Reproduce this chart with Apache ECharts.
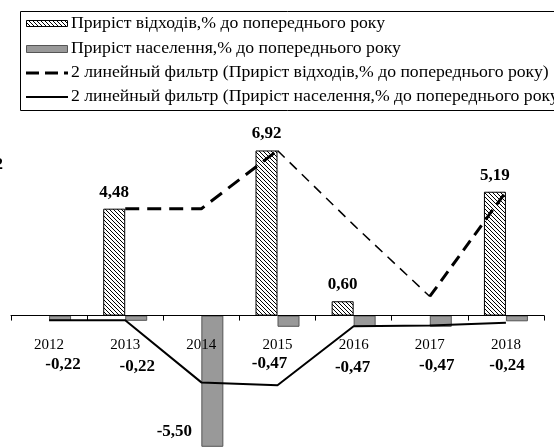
<!DOCTYPE html>
<html>
<head>
<meta charset="utf-8">
<script src="https://cdn.jsdelivr.net/npm/echarts@6/dist/echarts.min.js"></script>
<style>
html,body{margin:0;padding:0;background:#fff;}
#chart{width:554px;height:448px;}
</style>
</head>
<body>
<div id="chart"></div>
<script>
// ---- data ----
const years = ['2012','2013','2014','2015','2016','2017','2018'];
const wasteGrowth = [null, 4.48, null, 6.92, 0.60, null, 5.19];
const popGrowth = [-0.22, -0.22, -5.50, -0.47, -0.47, -0.47, -0.24];
const wasteFilter = [null, 4.48, 4.48, 6.92, 3.8, 0.8, 5.19];
const popFilter = [-0.2, -0.2, -2.8, -2.92, -0.45, -0.42, -0.3];
const names = [
  'Приріст відходів,% до попереднього року',
  'Приріст населення,% до попереднього року',
  '2 линейный фильтр (Приріст відходів,% до попереднього року)',
  '2 линейный фильтр (Приріст населення,% до попереднього року)'
];
const yMin = -5.55, yMax = 8;

const FONT = "'Liberation Serif','Times New Roman',serif";

// hatch pattern "\\\\"
const tile = document.createElement('canvas');
tile.width = 4; tile.height = 4;
(function(){
  const g = tile.getContext('2d');
  g.fillStyle = '#fff'; g.fillRect(0,0,4,4);
  g.strokeStyle = '#000'; g.lineWidth = 1;
  g.beginPath();
  g.moveTo(-1,-1); g.lineTo(5,5);
  g.moveTo(-1,3); g.lineTo(1,5);
  g.moveTo(3,-1); g.lineTo(5,1);
  g.stroke();
})();
const hatch = {image: tile, repeat: 'repeat'};

const fmt = v => v.toFixed(2).replace('.', ',');

// label placement for population bars (style only)
const popLabelOffsets = [[3,35],[1,37],[-38,-24],[-19,28],[-12,32],[-4,30],[-10,36]];
const popData = popGrowth.map((v,i)=>({ value: v, label: {offset: popLabelOffsets[i]} }));

function segment(arr, from, to){ return arr.map((v,i)=> (i>=from && i<=to) ? v : null); }

// layout: 23.86 px per unit, grid reaching the bottom edge
const pxPerUnit = 23.86;
const gridHeight = pxPerUnit * (yMax - yMin);
const zeroOffset = -pxPerUnit * (0 - yMin);

// manual legend (graphic)
const rowY = [24, 49, 73, 97];
const legendText = (i) => ({
  type: 'text', x: 71, y: rowY[i], scaleX: 1.105, z: 10,
  style: {text: names[i], x: 0, y: 0, verticalAlign: 'middle', align: 'left',
    font: '16px ' + FONT, fill: '#000'}
});
const legendGraphics = [
  {type: 'rect', z: 1, shape: {x: 20.5, y: 11.5, width: 600, height: 99},
   style: {fill: '#fff', stroke: '#000', lineWidth: 1}},
  {type: 'rect', z: 10, shape: {x: 26.5, y: rowY[0] - 3.5, width: 41, height: 6},
   style: {fill: hatch, stroke: '#000', lineWidth: 1}},
  {type: 'rect', z: 10, shape: {x: 26.5, y: rowY[1] - 3.5, width: 41, height: 7},
   style: {fill: '#999999', stroke: '#555', lineWidth: 1}},
  {type: 'line', z: 10, shape: {x1: 26, y1: rowY[2], x2: 68, y2: rowY[2]},
   style: {stroke: '#000', lineWidth: 3, lineDash: [13, 6]}},
  {type: 'line', z: 10, shape: {x1: 26, y1: rowY[3], x2: 68, y2: rowY[3]},
   style: {stroke: '#000', lineWidth: 2}},
  legendText(0), legendText(1), legendText(2), legendText(3),
  {type: 'text', z: 10, style: {text: '2', x: 3, y: 165, align: 'right', verticalAlign: 'middle',
    font: 'bold 17px ' + FONT, fill: '#000'}}
];

const chart = echarts.init(document.getElementById('chart'), null, {renderer:'canvas'});
chart.setOption({
  animation: false,
  backgroundColor: '#fff',
  textStyle: {fontFamily: FONT},
  grid: {left: 11, right: 10, bottom: 0, height: gridHeight, containLabel: false},
  xAxis: {
    type: 'category',
    data: years,
    boundaryGap: true,
    position: 'bottom',
    offset: zeroOffset,
    z: 10,
    axisLine: {onZero: false, lineStyle: {color: '#000', width: 1}},
    axisTick: {show: true, length: 5, lineStyle: {color: '#000'}},
    axisLabel: {color: '#000', fontSize: 15, fontFamily: FONT, margin: 22}
  },
  yAxis: {
    type: 'value', min: yMin, max: yMax,
    show: false, splitLine: {show: false}
  },
  graphic: legendGraphics,
  series: [
    {
      name: names[0], type: 'bar', data: wasteGrowth,
      barWidth: 22, barGap: '0%',
      itemStyle: {color: hatch, borderColor: '#000', borderWidth: 1},
      label: {show: true, position: 'top', distance: 8, formatter: p => fmt(p.value),
        color: '#000', fontSize: 17, fontWeight: 'bold', fontFamily: FONT},
      z: 2
    },
    {
      name: names[1], type: 'bar', data: popData,
      barWidth: 22, barGap: '0%',
      itemStyle: {color: '#999999', borderColor: '#555', borderWidth: 1},
      label: {show: true, position: 'bottom', distance: 0, formatter: p => fmt(p.value),
        color: '#000', fontSize: 17, fontWeight: 'bold', fontFamily: FONT},
      z: 2
    },
    {
      name: names[2], type: 'line', data: segment(wasteFilter, 1, 3),
      symbol: 'none', itemStyle: {color: '#000'},
      lineStyle: {color: '#000', width: 3, type: [14, 8]}, z: 5
    },
    {
      name: names[2], type: 'line', data: segment(wasteFilter, 3, 5),
      symbol: 'none', itemStyle: {color: '#000'},
      lineStyle: {color: '#000', width: 1.5, type: [10, 7]}, z: 5
    },
    {
      name: names[2], type: 'line', data: segment(wasteFilter, 5, 6),
      symbol: 'none', itemStyle: {color: '#000'},
      lineStyle: {color: '#000', width: 3, type: [12, 7]}, z: 5
    },
    {
      name: names[3], type: 'line', data: popFilter,
      symbol: 'none', itemStyle: {color: '#000'},
      lineStyle: {color: '#000', width: 2}, z: 5
    }
  ]
});
</script>
</body>
</html>
